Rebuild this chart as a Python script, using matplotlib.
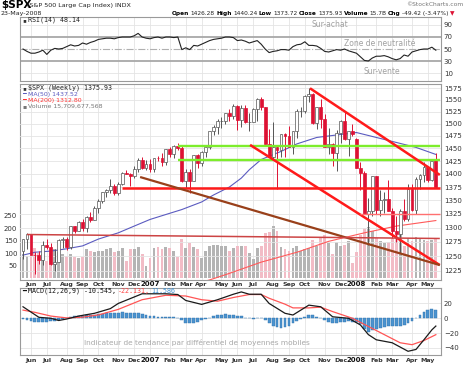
import numpy as np
import pandas as pd
import matplotlib
matplotlib.use('Agg')
import matplotlib.pyplot as plt
from matplotlib.ticker import FixedLocator, NullLocator, FixedFormatter

W, H = 465, 365

# ---- weekly S&P 500 candles (week ending dates) ----
opens = [1259.4, 1280.0, 1288.2, 1252.3, 1251.5, 1244.5, 1270.2, 1265.5, 1236.2, 1240.3,
         1278.6, 1279.4, 1266.7, 1302.3, 1295.1, 1311.0, 1299.0, 1319.7, 1314.8, 1335.9,
         1349.6, 1365.6, 1368.6, 1377.3, 1364.3, 1380.9, 1401.2, 1400.6, 1396.7, 1409.8,
         1427.1, 1410.8, 1418.3, 1409.7, 1430.7, 1430.5, 1422.2, 1448.4, 1438.1, 1455.5,
         1451.2, 1387.2, 1402.8, 1386.9, 1436.1, 1420.9, 1443.8, 1452.9, 1484.4, 1494.1,
         1505.6, 1505.9, 1522.8, 1515.7, 1536.3, 1507.7, 1532.9, 1502.6, 1503.4, 1530.4,
         1552.5, 1534.1, 1458.9, 1433.1, 1453.6, 1445.9, 1479.4, 1474.0, 1453.6, 1484.3,
         1525.8, 1526.8, 1557.6, 1561.8, 1500.6, 1535.3, 1509.7, 1453.7, 1458.7, 1440.7,
         1481.1, 1504.7, 1468.0, 1484.5, 1468.4, 1411.6, 1401.0, 1325.2, 1330.6, 1395.4,
         1331.3, 1350.0, 1353.1, 1330.6, 1293.4, 1288.1, 1329.5, 1315.2, 1370.4, 1332.8,
         1390.3, 1397.8, 1413.9, 1388.3, 1426.3]
highs = [1280.7, 1290.7, 1288.2, 1257.9, 1258.6, 1275.9, 1280.4, 1273.3, 1262.6, 1280.2,
         1284.0, 1283.0, 1303.3, 1303.0, 1312.0, 1315.0, 1322.0, 1328.5, 1340.0, 1353.0,
         1366.0, 1371.4, 1389.5, 1381.4, 1385.0, 1403.8, 1407.0, 1402.0, 1415.0, 1431.6,
         1432.0, 1427.7, 1429.4, 1431.6, 1435.2, 1441.6, 1449.3, 1453.0, 1457.6, 1461.6,
         1456.9, 1410.0, 1409.3, 1437.8, 1438.0, 1444.9, 1453.0, 1485.0, 1498.0, 1510.3,
         1513.8, 1523.0, 1530.0, 1540.6, 1540.0, 1538.7, 1540.0, 1522.0, 1532.4, 1555.1,
         1555.9, 1535.0, 1488.3, 1503.9, 1456.0, 1480.0, 1481.5, 1496.0, 1485.0, 1530.0,
         1534.0, 1561.0, 1576.1, 1565.0, 1536.0, 1552.8, 1520.0, 1492.0, 1460.0, 1488.0,
         1507.0, 1523.6, 1485.4, 1499.0, 1471.8, 1424.0, 1405.0, 1355.0, 1396.0, 1396.0,
         1370.0, 1366.0, 1388.0, 1335.0, 1321.0, 1334.0, 1353.0, 1380.0, 1381.0, 1395.0,
         1399.0, 1422.7, 1416.0, 1426.0, 1440.2]
lows = [1245.3, 1262.0, 1254.7, 1219.3, 1237.2, 1234.5, 1262.6, 1234.5, 1224.5, 1240.1,
        1265.0, 1261.3, 1263.1, 1290.9, 1294.0, 1294.1, 1292.5, 1310.9, 1314.2, 1327.1,
        1344.3, 1357.0, 1364.0, 1360.0, 1360.2, 1379.0, 1399.0, 1377.8, 1393.0, 1404.0,
        1410.0, 1407.0, 1403.9, 1403.0, 1424.2, 1416.0, 1417.0, 1433.4, 1431.0, 1447.0,
        1384.0, 1374.0, 1363.8, 1386.0, 1412.0, 1416.0, 1433.0, 1448.0, 1476.0, 1480.0,
        1491.0, 1500.0, 1505.0, 1510.0, 1487.0, 1493.0, 1502.0, 1484.2, 1503.0, 1506.0,
        1528.0, 1458.0, 1433.0, 1427.4, 1370.6, 1432.0, 1432.0, 1453.0, 1439.3, 1471.0,
        1513.0, 1523.0, 1546.0, 1500.0, 1490.0, 1492.0, 1453.0, 1438.0, 1415.0, 1406.1,
        1460.0, 1467.0, 1435.0, 1474.0, 1411.2, 1370.0, 1325.0, 1270.1, 1322.0, 1325.0,
        1321.0, 1327.0, 1330.0, 1282.0, 1275.0, 1256.0, 1312.0, 1312.0, 1331.0, 1324.0,
        1371.0, 1384.0, 1384.0, 1386.0, 1373.7]
closes = [1280.2, 1288.2, 1252.3, 1251.5, 1244.5, 1270.2, 1265.5, 1236.2, 1240.3, 1278.6,
          1279.4, 1266.7, 1302.3, 1295.1, 1311.0, 1299.0, 1319.7, 1314.8, 1335.9, 1349.6,
          1365.6, 1368.6, 1377.3, 1364.3, 1380.9, 1401.2, 1400.6, 1396.7, 1409.8, 1427.1,
          1410.8, 1418.3, 1409.7, 1430.7, 1430.5, 1422.2, 1448.4, 1438.1, 1455.5, 1451.2,
          1387.2, 1402.8, 1386.9, 1436.1, 1420.9, 1443.8, 1452.9, 1484.4, 1494.1, 1505.6,
          1505.9, 1522.8, 1515.7, 1536.3, 1507.7, 1532.9, 1502.6, 1503.4, 1530.4, 1552.5,
          1534.1, 1458.9, 1433.1, 1453.6, 1445.9, 1479.4, 1474.0, 1453.6, 1484.3, 1525.8,
          1526.8, 1557.6, 1561.8, 1500.6, 1535.3, 1509.7, 1453.7, 1458.7, 1440.7, 1481.1,
          1504.7, 1468.0, 1484.5, 1478.5, 1411.6, 1401.0, 1325.2, 1330.6, 1395.4, 1331.3,
          1350.0, 1353.1, 1330.6, 1293.4, 1288.1, 1329.5, 1315.2, 1370.4, 1332.8, 1390.3,
          1397.8, 1413.9, 1388.3, 1425.4, 1375.9]
# weekly volume, hundreds of millions of shares
volume = [95, 90, 110, 120, 100, 95, 70, 100, 115, 105,
          95, 90, 95, 85, 80, 85, 115, 110, 105, 110,
          110, 115, 120, 105, 110, 120, 70, 115, 115, 125,
          95, 50, 80, 120, 125, 118, 125, 120, 110, 85,
          158, 120, 140, 125, 118, 80, 110, 130, 135, 132,
          128, 130, 110, 120, 128, 130, 128, 100, 75, 120,
          130, 180, 185, 210, 190, 125, 118, 110, 120, 130,
          110, 115, 120, 155, 128, 165, 175, 140, 95, 145,
          130, 135, 150, 60, 105, 175, 200, 207, 190, 160,
          150, 140, 145, 160, 175, 190, 130, 160, 150, 165,
          160, 155, 150, 155, 157]

# moving averages (read at selected weeks)
ma50_wk = [0, 3, 7, 11, 15, 19, 24, 28, 32, 36, 40, 45, 48, 52, 55, 57, 60, 65, 69, 74, 80, 84, 89, 94, 99, 104]
ma50 = [1252, 1257, 1259, 1263, 1268, 1280, 1291, 1303, 1315, 1324, 1333, 1347, 1360, 1375, 1392,
        1408, 1428, 1444, 1459, 1472, 1478, 1482, 1472, 1462, 1452, 1438]
ma200_wk = [40, 47, 52, 60, 69, 77, 86, 94, 104]
ma200 = [1198, 1210, 1221, 1240, 1257, 1276, 1291, 1303, 1313]

# RSI(14)
rsi = [50, 46, 43, 43, 45, 48, 41, 48, 51, 50, 51, 54, 57, 55, 56, 60, 58, 61, 63, 66,
       67, 68, 68, 67, 69, 70, 70, 70, 72, 76, 70, 68, 67, 69, 70, 68, 70, 70, 69, 70,
       49, 52, 49, 56, 55, 58, 61, 64, 66, 67, 68, 70, 70, 69, 64, 65, 63, 60, 62, 64,
       58, 50, 44, 46, 47, 49, 49, 48, 54, 57, 58, 62, 56, 56, 55, 51, 46, 45, 47, 49,
       48, 50, 47, 45, 43, 37, 31, 30, 35, 38, 38, 39, 37, 34, 32, 34, 40, 38, 45, 47,
       49, 50, 50, 53, 48]

# MACD(12,26,9)
macd_wk = [0, 4, 7, 9, 11, 14, 18, 22, 24, 30, 36, 39, 41, 45, 49, 53, 55, 57, 60, 62, 66, 68, 72,
           75, 78, 82, 85, 87, 89, 93, 97, 99, 101, 103, 104]
macd = [15.5, 1.3, 0, -3, -1, 3, 6.7, 13, 20, 33, 33, 32, 24, 18.7, 25, 32.4, 35.5, 32.4, 32.4, 20,
        6.7, 4.4, 17.7, 15.5, 2, 0, -9, -22, -29, -33, -44.5, -42, -29, -15.6, -10.5]
signal_wk = [0, 3, 7, 11, 15, 19, 24, 30, 36, 41, 45, 49, 53, 57, 60, 62, 66, 68, 72, 75, 78,
             83, 87, 91, 95, 98, 101, 104]
signal = [11, 8, 3, 0.5, 1.5, 4.5, 12, 25, 31, 30, 25, 23, 28, 32, 32, 27, 19, 14, 14, 15, 9,
          0, -11, -22, -33, -35.6, -30, -22.1]
hist = [-1, -3, -4, -5, -5, -5, -4.5, -4, -4, -3, -1.5, 0.5, 1.5, 2.5, 3, 3.5, 4, 4.5, 5, 5.5,
        6, 6.5, 7, 7, 7.5, 8, 7.5, 7, 6.5, 7, 6, 5, 3, 2.5, 2, 2, 2, 1.5, 1.5, 1,
        -2, -6, -7, -6, -4.5, -3, -1, 1, 3, 4.5, 5, 5.5, 5, 4.5, 3.5, 2.5, 1, 0, -0.5, 0.5,
        1, -2, -6, -10, -12, -13, -12, -10, -7, -4, -1, 2, 4, 4, 2, 0, -3, -5, -6.5, -6.5,
        -5, -4.5, -4, -4.5, -5, -8, -14, -18, -16, -14, -13, -12, -11, -11, -10.5, -10, -9, -7, -4, 0.5,
        4, 8, 11, 12.5, 11.6]

# hand-drawn lines: (week, price) -> (week, price)
green_lines = [(39, 1454, 105, 1454), (39, 1428, 105, 1428)]
red_lines = [(25, 1374, 105, 1374), (72.3, 1575, 105, 1398), (57.2, 1457, 105, 1235)]
brown_lines = [(29.5, 1394, 105, 1235)]
pale_red_lines = [(85, 1325, 105, 1325)]
darkred_lines = [(1, 1288, 105, 1281)]

dates = pd.date_range('2006-05-26', periods=len(closes), freq='W-FRI')
x = np.arange(len(closes))
o, hi, lo, c = map(np.array, (opens, highs, lows, closes))
# first weekly bar that belongs to each month
month_idx = []
for i in range(1, len(dates)):
    d = dates[i]
    first = 2 if d.month == 1 else 5
    if d.day >= first and (not month_idx or dates[month_idx[-1]].month != d.month):
        month_idx.append(i)
month_lab = [str(dates[i].year) if dates[i].month == 1 else dates[i].strftime('%b') for i in month_idx]

fig = plt.figure(figsize=(W / 100, H / 100), dpi=100)


def axes_px(l, t, r, b):
    return fig.add_axes([l / W, 1 - b / H, (r - l) / W, (b - t) / H])


ax_rsi = axes_px(20, 17, 441, 81)
ax_vol = axes_px(20, 84, 441, 280)
ax_px = ax_vol.twinx()
ax_macd = axes_px(20, 288, 441, 355)

XL = (-0.76, 105.3)
for a in (ax_rsi, ax_vol, ax_macd):
    a.set_xlim(*XL)
    a.set_xticks(month_idx)
    a.set_xticklabels([])
    a.grid(axis='x', color='#e4e4e4', lw=0.6)
    a.set_axisbelow(True)
    a.tick_params(length=0, labelsize=5, colors='#333333', pad=2)
    for s in a.spines.values():
        s.set_color('#9a9a9a')
        s.set_linewidth(0.8)
ax_px.tick_params(length=0, labelsize=5, colors='#333333', pad=2)
for s in ax_px.spines.values():
    s.set_visible(False)

# ---- RSI panel ----
ax_rsi.set_ylim(-3.3, 103.3)
ax_rsi.yaxis.tick_right()
ax_rsi.set_yticks([10, 30, 50, 70, 90])
for lv in (10, 90):
    ax_rsi.axhline(lv, color='#e4e4e4', lw=0.6, zorder=0)
for lv in (30, 70):
    ax_rsi.axhline(lv, color='#a8a8a8', lw=1.3, zorder=1)
ax_rsi.axhline(50, color='#b0b0b0', lw=0.8, ls='-.', zorder=1)
ax_rsi.plot(x, rsi, color='#222222', lw=0.8, zorder=3)

# ---- price panel ----
up_vol = np.r_[True, c[1:] >= c[:-1]]
ax_vol.bar(x, volume, width=0.72, color=np.where(up_vol, '#b4b4b4', '#f2bcc6'), lw=0, zorder=1)
ax_vol.set_ylim(-8, 782)
ax_vol.set_yticks([50, 100, 150, 200, 250])
ax_vol.yaxis.tick_left()

ax_px.set_yscale('log')
ax_px.set_ylim(1209.9, 1584.3)
pt = list(range(1225, 1576, 25))
ax_px.yaxis.set_major_locator(FixedLocator(pt))
ax_px.yaxis.set_major_formatter(FixedFormatter([str(v) for v in pt]))
ax_px.yaxis.set_minor_locator(NullLocator())
for v in pt:
    ax_px.axhline(v, color='#e4e4e4', lw=0.6, zorder=0)

ax_px.plot(ma200_wk, ma200, color='#ff5a5a', lw=0.8, zorder=2)
ax_px.plot(ma50_wk, ma50, color='#5b5bc0', lw=0.8, zorder=2)

up = c >= o
ax_px.vlines(x, lo, hi, color=np.where(up, '#555555', '#dd1133'), lw=0.7, zorder=3)
body_lo = np.minimum(o, c)
body_h = np.maximum(np.abs(c - o), 0.8)
ax_px.bar(x, body_h, bottom=body_lo, width=0.72, color=np.where(up, '#ffffff', '#dd1133'),
          edgecolor=np.where(up, '#555555', '#dd1133'), lw=0.5, zorder=4)

for seg, col, lw in ([(s, '#7ded2c', 1.7) for s in green_lines] +
                     [(s, '#ff1a1a', 1.8) for s in red_lines] +
                     [(s, '#99401a', 1.6) for s in brown_lines] +
                     [(s, '#ff7070', 1.0) for s in pale_red_lines] +
                     [(s, '#cc4444', 1.1) for s in darkred_lines]):
    ax_px.plot([seg[0], seg[2]], [seg[1], seg[3]], color=col, lw=lw, zorder=5, solid_capstyle='butt')
ax_px.set_xlim(*XL)

# ---- MACD panel ----
ax_macd.set_ylim(-49.5, 40.8)
ax_macd.yaxis.tick_right()
ax_macd.set_yticks([-40, -20, 0, 20])
for lv in (-40, -20, 0, 20):
    ax_macd.axhline(lv, color='#e4e4e4', lw=0.6, zorder=0)
ax_macd.bar(x, hist, width=0.72, color='#4b93cf', edgecolor='#2f72ad', lw=0.3, zorder=2)
ax_macd.plot(signal_wk, signal, color='#ff5555', lw=0.9, zorder=3)
ax_macd.plot(macd_wk, macd, color='#1a1a1a', lw=0.9, zorder=4)

# month labels under the price and MACD panels
for a, yoff in ((ax_vol, -4.5 / 196), (ax_macd, -5.5 / 67)):
    for i, lab in zip(month_idx, month_lab):
        yr = lab.isdigit()
        a.text(i, yoff, lab, transform=a.get_xaxis_transform(), ha='center', va='center',
               fontsize=5.0 if yr else 4.5, fontweight='bold',
               color='#111111' if yr else '#333333', clip_on=False)

# ---- texts ----
ax0 = fig.add_axes([0, 0, 1, 1])
ax0.set_xlim(0, W)
ax0.set_ylim(H, 0)
ax0.axis('off')


def chain(x0, y0, parts, size=5, family='DejaVu Sans', gap=1.3):
    t = None
    for s, col, wt in parts:
        if t is None:
            t = ax0.text(x0, y0, s, color=col, fontweight=wt, fontsize=size, va='center',
                         family=family)
        else:
            t = ax0.annotate(s, xy=(1, 0.5), xycoords=t, xytext=(gap, 0), textcoords='offset points',
                             va='center', ha='left', color=col, fontweight=wt, fontsize=size,
                             family=family)
    return t


ax0.text(1, 5, '$SPX', fontsize=7.5, fontweight='bold', va='center')
ax0.text(27, 5.5, '(S&P 500 Large Cap Index) INDX', fontsize=4.6, va='center', color='#222222')
ax0.text(1, 13.5, '23-May-2008', fontsize=4.6, va='center', color='#222222')
ax0.text(463, 4.5, '\u00a9StockCharts.com', fontsize=4.3, va='center', ha='right', color='#777777')
chain(172, 13.5, [('Open', '#000', 'bold'), ('1426.28', '#222', 'normal'),
                  ('High', '#000', 'bold'), ('1440.24', '#222', 'normal'),
                  ('Low', '#000', 'bold'), ('1373.72', '#222', 'normal'),
                  ('Close', '#000', 'bold'), ('1375.93', '#222', 'normal'),
                  ('Volume', '#000', 'bold'), ('15.7B', '#222', 'normal'),
                  ('Chg', '#000', 'bold'), ('-49.42 (-3.47%)', '#222', 'normal'),
                  ('\u25bc', '#dd1133', 'normal')], size=4.2, gap=1.0)

mono = 'DejaVu Sans Mono'
chain(22, 20, [('\u25aa', '#333', 'normal'), ('RSI(14) 48.14', '#222', 'normal')], size=4.8, family=mono)
ax0.text(330, 24.5, 'Sur-achat', fontsize=5.5, ha='center', va='center', color='#a0a0a0')
ax0.text(380, 44, 'Zone de neutralit\u00e9', fontsize=5.5, ha='center', va='center', color='#a0a0a0')
ax0.text(382, 72, 'Sur-vente', fontsize=5.5, ha='center', va='center', color='#a0a0a0')

chain(22, 88, [('\u25aa', '#333', 'normal'), ('$SPX (Weekly) 1375.93', '#222', 'normal')], size=4.8, family=mono)
chain(22, 94.5, [('\u2501', '#5b5bc0', 'normal'), ('MA(50) 1437.52', '#5b5bc0', 'normal')], size=4.5)
chain(22, 100.5, [('\u2501', '#ff3333', 'normal'), ('MA(200) 1312.80', '#ff3333', 'normal')], size=4.5)
chain(22, 106.5, [('\u25aa', '#777', 'normal'), ('Volume 15,709,677,568', '#777', 'normal')], size=4.5)

chain(22, 291, [('\u2501', '#111', 'normal'), ('MACD(12,26,9) -10.545,', '#111', 'normal'),
                ('-22.131,', '#ff4444', 'normal'), ('11.586', '#3b8fd0', 'normal')], size=4.8, family=mono)
ax0.text(197, 342.5, 'Indicateur de tendance par diff\u00e9rentiel de moyennes mobiles', fontsize=5.3,
         ha='center', va='center', color='#a8a8a8')

fig.savefig('out.png', dpi=100)
